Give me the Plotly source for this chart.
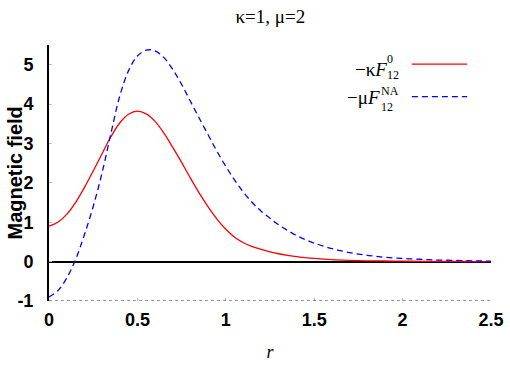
import plotly.graph_objects as go

# radial coordinate and the two field profiles
r = [0, 0.05, 0.1, 0.15, 0.2, 0.25, 0.3, 0.35, 0.4, 0.45, 0.5, 0.55, 0.6,
     0.65, 0.7, 0.75, 0.8, 0.85, 0.9, 0.95, 1.0, 1.05, 1.1, 1.15, 1.2, 1.25, 1.3,
     1.35, 1.4, 1.45, 1.5, 1.6, 1.7, 1.8, 1.9, 2.0, 2.1, 2.2, 2.3, 2.4, 2.5]
kappa_F0 = [0.90, 1.0, 1.2, 1.5, 1.88, 2.3, 2.74, 3.17, 3.52, 3.74, 3.82, 3.75, 3.56,
            3.26, 2.9, 2.52, 2.12, 1.74, 1.39, 1.08, 0.82, 0.62, 0.48, 0.38, 0.31, 0.25, 0.2,
            0.16, 0.125, 0.1, 0.08, 0.05, 0.032, 0.02, 0.015, 0.01, 0.008, 0.006, 0.004, 0.002, 0.0]
mu_FNA = [-0.9, -0.74, -0.42, 0.05, 0.68, 1.4, 2.25, 3.25, 4.2, 4.85, 5.22, 5.37, 5.35,
          5.18, 4.88, 4.5, 4.07, 3.64, 3.22, 2.8, 2.42, 2.07, 1.76, 1.5, 1.28, 1.1, 0.93,
          0.79, 0.66, 0.56, 0.47, 0.33, 0.23, 0.16, 0.11, 0.08, 0.06, 0.04, 0.03, 0.02, 0.01]

xticks = [0, 0.5, 1, 1.5, 2, 2.5]
yticks = [-1, 0, 1, 2, 3, 4, 5]

serif = "Liberation Serif, Times New Roman, serif"
sans = "Liberation Sans, Arial, sans-serif"

fig = go.Figure()
fig.add_trace(go.Scatter(x=r, y=kappa_F0, mode="lines", line_shape="spline",
                         line=dict(color="#ff0000", width=1.3), showlegend=False))
fig.add_trace(go.Scatter(x=r, y=mu_FNA, mode="lines", line_shape="spline",
                         line=dict(color="#0000ff", width=1.3, dash="6px,4px"), showlegend=False))

# dotted bottom border
fig.add_shape(type="line", xref="paper", yref="y", x0=0, x1=1, y0=-1, y1=-1,
              line=dict(color="#333333", width=1, dash="dot"))

# y axis title as an annotation so it can sit where the reference has it
fig.add_annotation(x=-0.078, y=0.5, xref="paper", yref="paper", text="Magnetic field",
                   textangle=-90, showarrow=False, xanchor="center", yanchor="middle",
                   font=dict(family=sans, size=20, color="black", weight="bold"))

# hand-made legend: text on the left, line sample on the right
# (main text, superscript, x of text end, y of text, y split of sup/sub, y of sample)
leg = [("−κ<i>F</i>", "0", 0.767, 0.906, 0.916, 0.925,
        dict(color="#ff0000", width=1.3, dash="solid")),
       ("−μ<i>F</i>", "NA", 0.752, 0.793, 0.790, 0.798,
        dict(color="#0000ff", width=1.3, dash="6px,4px"))]
for txt, sup, xe, ym, ysplit, yline, ln in leg:
    fig.add_annotation(x=xe, y=ym, xref="paper", yref="paper", text=txt, showarrow=False,
                       xanchor="right", yanchor="middle", borderpad=0,
                       font=dict(family=serif, size=19, color="black"))
    fig.add_annotation(x=xe - 0.004, y=ysplit, xref="paper", yref="paper", text=sup,
                       showarrow=False, xanchor="left", yanchor="bottom", borderpad=0,
                       font=dict(family=serif, size=12, color="black"))
    fig.add_annotation(x=xe - 0.004, y=ysplit, xref="paper", yref="paper", text="12",
                       showarrow=False, xanchor="left", yanchor="top", borderpad=0,
                       font=dict(family=serif, size=12, color="black"))
    fig.add_shape(type="line", xref="paper", yref="paper", x0=0.821, x1=0.946,
                  y0=yline, y1=yline, line=ln)

fig.update_layout(
    width=510, height=367,
    margin=dict(l=49, r=19, t=45, b=66),
    paper_bgcolor="white", plot_bgcolor="white",
    title=dict(text="κ=1, μ=2", x=0.53, xanchor="center", y=0.956, yanchor="middle",
               font=dict(family=serif, size=19, color="black")),
    xaxis=dict(range=[0, 2.5], tickvals=xticks, ticktext=[str(v) for v in xticks],
               showgrid=False, zeroline=False, showline=False, automargin=False,
               ticks="inside", ticklen=3, tickcolor="#bbbbbb",
               ticklabelstandoff=6,
               tickfont=dict(family=sans, size=18, color="black", weight="bold"),
               title=dict(text="<i>r</i>", standoff=16,
                          font=dict(family=serif, size=18, color="black"))),
    yaxis=dict(range=[-1, 5.5], tickvals=yticks, ticktext=[str(v) for v in yticks],
               showgrid=False, zeroline=True, zerolinecolor="black", zerolinewidth=2,
               showline=True, linecolor="black", linewidth=2, automargin=False,
               ticks="inside", ticklen=3, tickcolor="#bbbbbb",
               ticklabelstandoff=10,
               tickfont=dict(family=sans, size=18, color="black", weight="bold")),
)

# drop the browser's default 8px body margin so the figure sits at the window corner
fig.write_html("out.html", config={"displayModeBar": False},
               post_script="document.body.style.margin = '0';")
